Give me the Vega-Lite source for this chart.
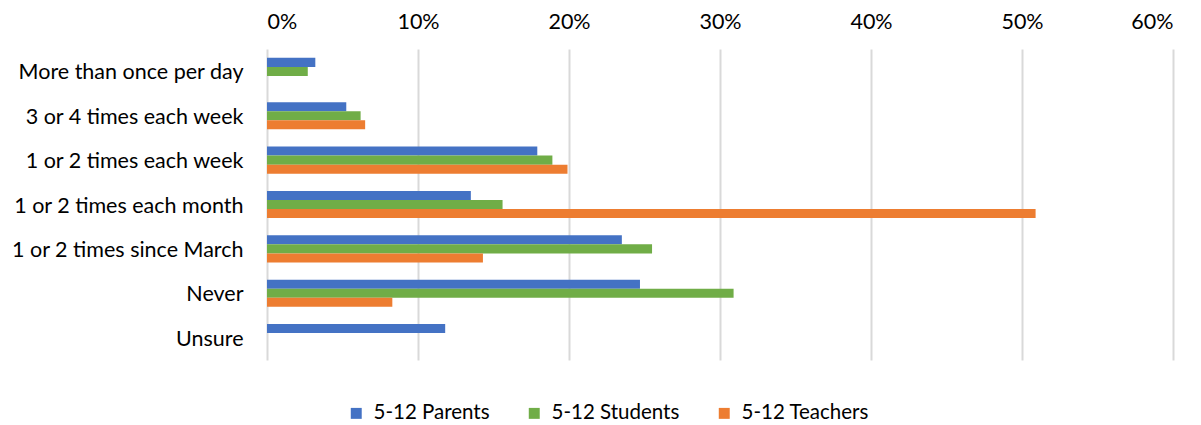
{
  "$schema": "https://vega.github.io/schema/vega-lite/v6.json",
  "width": 906,
  "height": 311,
  "autosize": {"type": "none"},
  "padding": {"left": 267, "top": 49, "right": 28, "bottom": 65},
  "background": "white",
  "config": {
    "view": {"stroke": null},
    "font": "Lato"
  },
  "data": {
    "values": [
      {"category": "More than once per day", "group": "5-12 Parents", "value": 0.032},
      {"category": "More than once per day", "group": "5-12 Students", "value": 0.027},
      {"category": "3 or 4 times each week", "group": "5-12 Parents", "value": 0.0525},
      {"category": "3 or 4 times each week", "group": "5-12 Students", "value": 0.062},
      {"category": "3 or 4 times each week", "group": "5-12 Teachers", "value": 0.065},
      {"category": "1 or 2 times each week", "group": "5-12 Parents", "value": 0.179},
      {"category": "1 or 2 times each week", "group": "5-12 Students", "value": 0.189},
      {"category": "1 or 2 times each week", "group": "5-12 Teachers", "value": 0.199},
      {"category": "1 or 2 times each month", "group": "5-12 Parents", "value": 0.135},
      {"category": "1 or 2 times each month", "group": "5-12 Students", "value": 0.156},
      {"category": "1 or 2 times each month", "group": "5-12 Teachers", "value": 0.509},
      {"category": "1 or 2 times since March", "group": "5-12 Parents", "value": 0.235},
      {"category": "1 or 2 times since March", "group": "5-12 Students", "value": 0.255},
      {"category": "1 or 2 times since March", "group": "5-12 Teachers", "value": 0.143},
      {"category": "Never", "group": "5-12 Parents", "value": 0.247},
      {"category": "Never", "group": "5-12 Students", "value": 0.309},
      {"category": "Never", "group": "5-12 Teachers", "value": 0.083},
      {"category": "Unsure", "group": "5-12 Parents", "value": 0.118}
    ]
  },
  "mark": {"type": "bar"},
  "encoding": {
    "y": {
      "field": "category",
      "type": "nominal",
      "sort": ["More than once per day", "3 or 4 times each week", "1 or 2 times each week", "1 or 2 times each month", "1 or 2 times since March", "Never", "Unsure"],
      "scale": {"paddingInner": 0.39, "paddingOuter": 0.2},
      "axis": {
        "title": null,
        "domain": false,
        "ticks": false,
        "labelFontSize": 21.5,
        "labelColor": "#000000",
        "labelPadding": 24,
        "labelLimit": 300,
        "labelBaseline": "middle",
        "labelOffset": 2
      }
    },
    "yOffset": {
      "field": "group",
      "type": "nominal",
      "sort": ["5-12 Parents", "5-12 Students", "5-12 Teachers"],
      "scale": {"paddingInner": 0, "paddingOuter": 0}
    },
    "x": {
      "field": "value",
      "type": "quantitative",
      "scale": {"domain": [0, 0.6], "nice": false},
      "axis": {
        "orient": "top",
        "format": ".0%",
        "values": [0, 0.1, 0.2, 0.3, 0.4, 0.5, 0.6],
        "title": null,
        "domain": false,
        "ticks": false,
        "grid": true,
        "gridColor": "#d9d9d9",
        "gridWidth": 2,
        "labelFontSize": 21.5,
        "labelColor": "#000000",
        "labelPadding": 16
      }
    },
    "color": {
      "field": "group",
      "type": "nominal",
      "scale": {
        "domain": ["5-12 Parents", "5-12 Students", "5-12 Teachers"],
        "range": ["#4472C4", "#70AD47", "#ED7D31"]
      },
      "legend": {
        "title": null,
        "orient": "none",
        "direction": "horizontal",
        "legendX": 79,
        "legendY": 354,
        "symbolType": "square",
        "symbolSize": 120,
        "symbolStrokeWidth": 0,
        "labelFontSize": 20.5,
        "labelColor": "#000000",
        "labelOffset": 7,
        "columnPadding": 34
      }
    }
  }
}
